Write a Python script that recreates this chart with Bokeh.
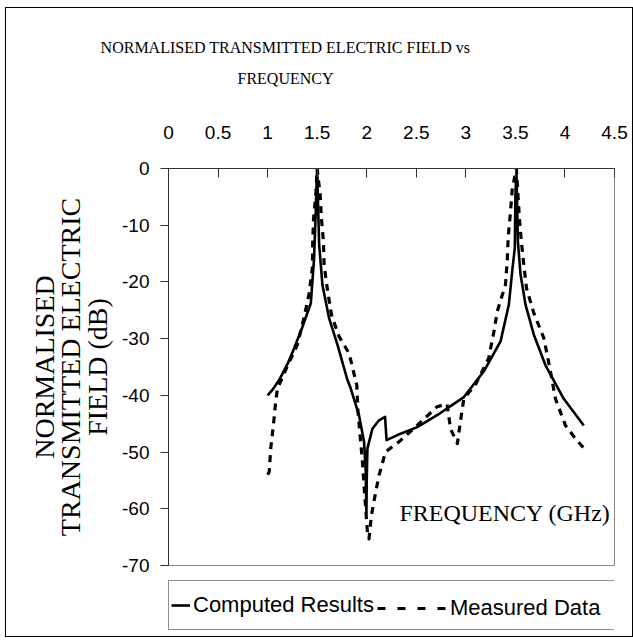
from bokeh.plotting import figure
from bokeh.layouts import column
from bokeh.models import (Label, Legend, LegendItem, FixedTicker, Range1d, NumeralTickFormatter,
                          Title)
from bokeh.embed import file_html
from bokeh.resources import INLINE

# ---------------- data ----------------
x_ticks = [0, 0.5, 1, 1.5, 2, 2.5, 3, 3.5, 4, 4.5]
y_ticks = [0, -10, -20, -30, -40, -50, -60, -70]
y_tick_labels = ["0", "-10", "-20", "-30", "-40", "-50", "-60", "-70"]

computed_freq = [1.0, 1.05, 1.116, 1.2, 1.268, 1.35, 1.436, 1.469, 1.485, 1.493, 1.5,
                 1.507, 1.52, 1.553, 1.62, 1.705, 1.806, 1.839, 1.922, 1.973, 1.99,
                 1.997, 2.0, 2.007, 2.057, 2.124, 2.185, 2.2, 2.31, 2.51, 2.71, 2.98,
                 3.18, 3.35, 3.434, 3.468, 3.494, 3.5, 3.51, 3.525, 3.552, 3.602, 3.686,
                 3.804, 3.988, 4.19]
computed_db = [-40, -39, -37.3, -34.5, -31.7, -28, -23.75, -15.8, -8, -3, 0,
               -5, -13.4, -20.5, -26.4, -31.1, -37.3, -38.8, -43.5, -48.2, -53.5,
               -60.6, -55, -49.4, -45.9, -44.4, -43.8, -47.9, -47, -45.6, -43.5, -40.3,
               -35.8, -30.5, -24, -18.1, -14, -5, 0, -12.8, -18.7, -24, -29.3,
               -34.7, -40.6, -45.3]

measured_freq = [1.0, 1.016, 1.033, 1.06, 1.083, 1.1, 1.2, 1.3, 1.37, 1.419, 1.453, 1.455,
                 1.463, 1.486, 1.5, 1.53, 1.543, 1.563, 1.57, 1.604, 1.644, 1.72, 1.822,
                 1.9, 1.912, 1.933, 1.957, 1.973, 1.99, 2.007, 2.023, 2.047, 2.09, 2.124,
                 2.19, 2.275, 2.325, 2.51, 2.71, 2.81, 2.846, 2.915, 2.947, 2.98, 3.1,
                 3.23, 3.283, 3.317, 3.40, 3.418, 3.428, 3.45, 3.468, 3.51, 3.525, 3.54,
                 3.56, 3.585, 3.612, 3.686, 3.787, 3.854, 3.904, 4.005, 4.1, 4.2]
measured_db = [-54, -53.5, -49.1, -45, -40.8, -38.8, -34.8, -31.1, -26.1, -22, -17.3, -13.1,
               -9, -4.6, 0, -4.6, -8.8, -12.8, -17, -21.4, -25.8, -29.6, -32.6,
               -38.2, -42.9, -47, -51.8, -55.9, -60, -64.2, -65.3, -61.2, -57.1, -54.1,
               -50, -48.8, -48.2, -45.3, -42, -41.5, -45.9, -48.5, -44.4, -40.6, -38,
               -33.5, -28.8, -25.2, -20.5, -16.1, -11.9, -7.8, -3.7, 0, -4.3, -8.7,
               -12.8, -17, -21.1, -25.5, -29.9, -35.8, -40.6, -45.3, -47.5, -49.5]

title_lines = ["NORMALISED TRANSMITTED ELECTRIC FIELD vs", "FREQUENCY"]
y_title = "NORMALISED\nTRANSMITTED ELECTRIC\nFIELD (dB)"
x_title = "FREQUENCY (GHz)"
series_names = ["Computed Results", "Measured Data"]

# ---------------- layout constants ----------------
W = 626
H_TITLE, H_MAIN, H_LEG = 92, 475, 61
BL, BR = 162, 18
SERIF = "Liberation Serif"
SANS = "Liberation Sans"
SOLID = dict(line_color="black", line_width=2.6, line_join="round")
DASHED = dict(line_color="black", line_width=3.2, line_join="round", line_dash="7 6")


def strip_fig(h, top):
    f = figure(width=W, height=h, output_backend="svg", toolbar_location=None,
               x_axis_location=None, y_axis_location=None, title=None,
               min_border_left=BL, min_border_right=BR, min_border_top=top, min_border_bottom=0,
               x_range=Range1d(100, 200), y_range=Range1d(100, 200))
    f.grid.visible = False
    f.outline_line_color = None
    return f


# ---------------- title strip ----------------
tf = strip_fig(H_TITLE, 85)
for txt, off in [(title_lines[1], 69.0), (title_lines[0], -67.9)]:
    tf.add_layout(Title(text=txt, align="left", offset=off, vertical_align="middle",
                        standoff=12.3, text_font=SERIF, text_font_size="16px",
                        text_font_style="normal", text_color="black"), "above")

# ---------------- main chart ----------------
p = figure(width=W, height=H_MAIN, output_backend="svg", toolbar_location=None,
           x_range=Range1d(0, 4.5), y_range=Range1d(-70, 0), title=None,
           x_axis_location="above",
           min_border_left=BL, min_border_right=BR, min_border_top=68, min_border_bottom=10)
p.grid.visible = False
p.outline_line_color = "#888888"
p.outline_line_width = 1

xa = p.xaxis[0]
xa.ticker = FixedTicker(ticks=x_ticks)
xa.formatter = NumeralTickFormatter(format="0.[0]")
xa.major_tick_in = 9
xa.major_tick_out = 0
xa.minor_tick_in = 0
xa.minor_tick_out = 0
xa.axis_line_color = "#333333"
xa.major_tick_line_color = "#333333"
xa.major_label_text_font = SANS
xa.major_label_text_font_size = "19px"
xa.major_label_text_color = "black"
xa.major_label_standoff = 30

ya = p.yaxis[0]
ya.ticker = FixedTicker(ticks=y_ticks)
ya.major_label_overrides = dict(zip(y_ticks, y_tick_labels))
ya.major_tick_in = 0
ya.major_tick_out = 8
ya.minor_tick_in = 0
ya.minor_tick_out = 0
ya.axis_line_color = "#333333"
ya.major_tick_line_color = "#333333"
ya.major_label_text_font = SANS
ya.major_label_text_font_size = "19px"
ya.major_label_text_color = "black"
ya.major_label_standoff = 11
ya.axis_label = y_title
ya.axis_label_text_font = SERIF
ya.axis_label_text_font_size = "28px"
ya.axis_label_text_font_style = "normal"
ya.axis_label_text_color = "black"
ya.axis_label_text_line_height = 0.86
ya.axis_label_standoff = 6

p.line(computed_freq, computed_db, **SOLID)
p.line(measured_freq, measured_db, **DASHED)

p.add_layout(Label(x=2.33, y=-60.7, text=x_title, text_font=SERIF, text_font_size="24px",
                   text_color="black", text_align="left", text_baseline="middle"))

# ---------------- legend strip (series drawn outside its view, only the keys show) ----------
lf = strip_fig(H_LEG, 0)
g1 = lf.line(computed_freq, computed_db, **SOLID)
g2 = lf.line(measured_freq, measured_db, line_color="black", line_width=3.2, line_dash="8 12")
leg_a = Legend(items=[LegendItem(label=series_names[0], renderers=[g1])],
               location=(0, 6), orientation="horizontal",
               padding=2, margin=0, glyph_width=19, glyph_height=44, label_standoff=3,
               label_width=420, label_height=44, border_line_color="#222222",
               border_line_width=1, background_fill_color="white", background_fill_alpha=1,
               label_text_font=SANS, label_text_font_size="22px", label_text_color="black")
leg_b = Legend(items=[LegendItem(label=series_names[1], renderers=[g2])],
               location=(209, 6), orientation="horizontal",
               padding=2, margin=0, glyph_width=70, glyph_height=44, label_standoff=3,
               label_height=44, border_line_color=None, background_fill_alpha=0,
               label_text_font=SANS, label_text_font_size="22px", label_text_color="black")
lf.add_layout(leg_a)
lf.add_layout(leg_b)

layout = column(tf, p, lf, spacing=0, margin=(7, 0, 0, 5),
                styles={"border": "1px solid black"})

open("out.html", "w").write(file_html(layout, INLINE))
